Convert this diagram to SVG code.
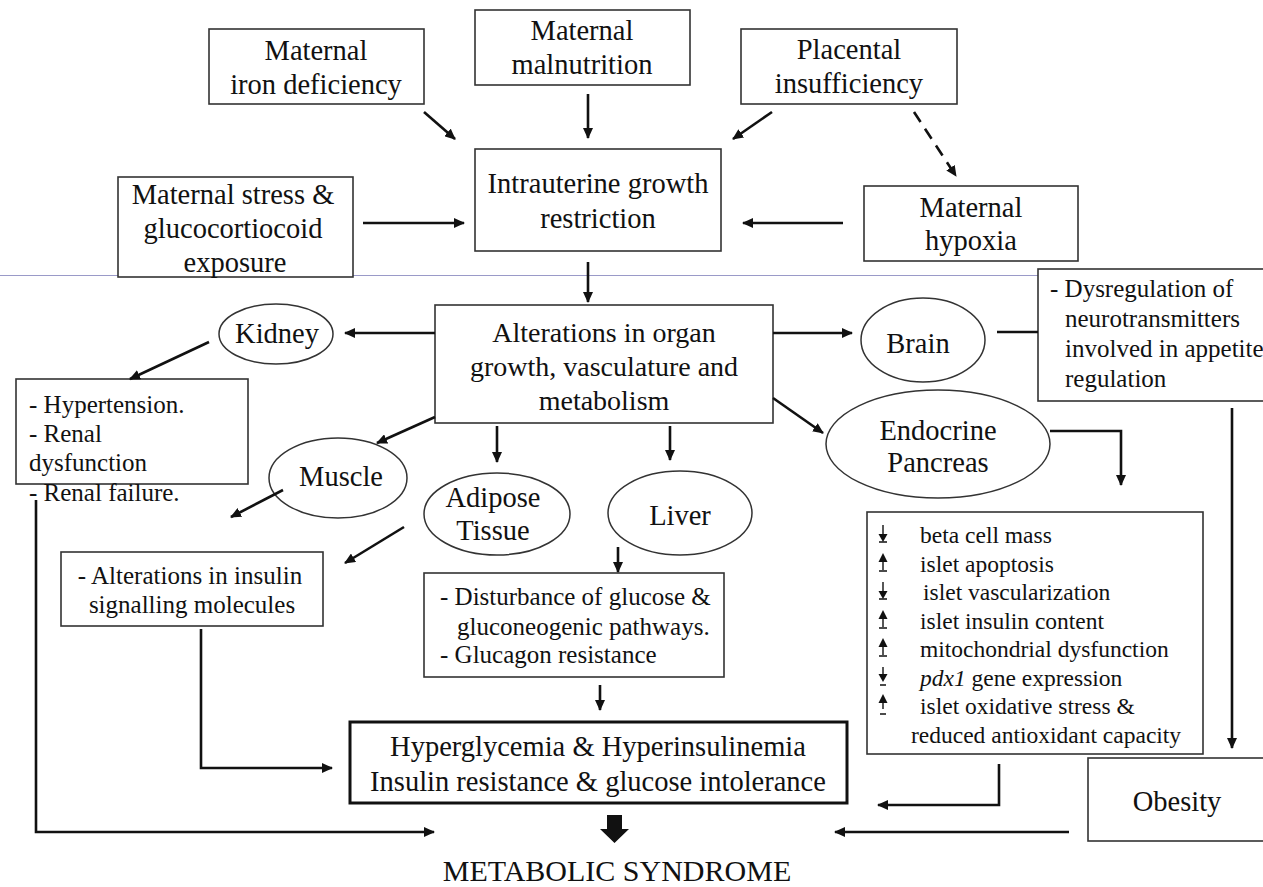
<svg xmlns="http://www.w3.org/2000/svg" width="1263" height="887" viewBox="0 0 1263 887">
<defs>
<style>
text{font-family:"Liberation Serif","Times New Roman",serif;fill:#111}
.box{fill:#fff;stroke:#333;stroke-width:1.6}
.ell{fill:#fff;stroke:#333;stroke-width:1.5}
.c{text-anchor:middle}
.cn{fill:none;stroke:#111;stroke-width:2.6}
.ar{marker-end:url(#ah)}
.sym{stroke:#111;stroke-width:1.4;fill:none}
</style>
<marker id="ah" markerUnits="userSpaceOnUse" markerWidth="11" markerHeight="10" refX="10" refY="5" orient="auto">
<path d="M0,0 L11,5 L0,10 z" fill="#111"/>
</marker>
</defs>
<rect width="1263" height="887" fill="#fff"/>
<line x1="0" y1="275.5" x2="1263" y2="275.5" stroke="#9a9ac8" stroke-width="1"/>

<g font-family="Liberation Serif, Times New Roman, serif" font-size="28.5">
<g id="iron"><rect class="box" x="209" y="29" width="215" height="75"/>
<text class="c" x="316" y="60">Maternal</text><text class="c" x="316" y="94">iron deficiency</text></g>
<g id="malnutrition"><rect class="box" x="475" y="10" width="215" height="75"/>
<text class="c" x="582" y="40">Maternal</text><text class="c" x="582" y="74">malnutrition</text></g>
<g id="placental"><rect class="box" x="741" y="29" width="216" height="75"/>
<text class="c" x="849" y="59">Placental</text><text class="c" x="849" y="93">insufficiency</text></g>
<g id="stress"><rect class="box" x="118" y="177" width="235" height="100"/>
<text class="c" x="233" y="204">Maternal stress &amp;</text><text class="c" x="233" y="238">glucocortiocoid</text><text class="c" x="235" y="272">exposure</text></g>
<g id="iugr"><rect class="box" x="475" y="149" width="246" height="102"/>
<text class="c" x="598" y="193">Intrauterine growth</text><text class="c" x="598" y="228">restriction</text></g>
<g id="hypoxia"><rect class="box" x="864" y="186" width="214" height="75"/>
<text class="c" x="971" y="217">Maternal</text><text class="c" x="971" y="250">hypoxia</text></g>

<g id="alterations"><rect class="box" x="435" y="305" width="338" height="118"/>
<text class="c" x="604" y="342" font-size="28">Alterations in organ</text><text class="c" x="604" y="376" font-size="28">growth, vasculature and</text><text class="c" x="604" y="410" font-size="28">metabolism</text></g>
<g id="kidney"><ellipse class="ell" cx="276" cy="334" rx="57" ry="30"/><text class="c" x="277" y="343">Kidney</text></g>
<g id="renal" font-size="25"><rect class="box" x="16" y="379" width="232" height="105"/>
<text x="29" y="413">- Hypertension.</text><text x="29" y="442">- Renal</text><text x="29" y="471">dysfunction</text><text x="29" y="501">- Renal failure.</text></g>
<g id="muscle"><ellipse class="ell" cx="338" cy="478" rx="69" ry="40"/><text class="c" x="341" y="486">Muscle</text></g>
<g id="adipose"><ellipse class="ell" cx="497" cy="514" rx="73" ry="41"/><text class="c" x="493" y="507">Adipose</text><text class="c" x="493" y="540">Tissue</text></g>
<g id="liver"><ellipse class="ell" cx="680" cy="513" rx="72" ry="42"/><text class="c" x="680" y="525">Liver</text></g>
<g id="insulin" font-size="25"><rect class="box" x="61" y="552" width="262" height="74"/>
<text class="c" x="190" y="584">- Alterations in insulin</text><text class="c" x="192" y="613">signalling molecules</text></g>
<g id="liverbox" font-size="25"><rect class="box" x="424" y="573" width="300" height="104"/>
<text x="440" y="605">- Disturbance of glucose &amp;</text><text x="457" y="635">gluconeogenic pathways.</text><text x="440" y="663">- Glucagon resistance</text></g>
<g id="hyper" font-size="28.5"><rect x="350" y="722" width="497" height="81" fill="#fff" stroke="#111" stroke-width="3"/>
<text class="c" x="598" y="756">Hyperglycemia &amp; Hyperinsulinemia</text><text class="c" x="598" y="791">Insulin resistance &amp; glucose intolerance</text></g>

<g id="brain"><ellipse class="ell" cx="923" cy="340" rx="62" ry="42"/><text class="c" x="918" y="353">Brain</text></g>
<g id="dysreg" font-size="25"><rect class="box" x="1038" y="269" width="240" height="132"/>
<text x="1050" y="297">- Dysregulation of</text><text x="1065" y="327">neurotransmitters</text><text x="1065" y="357">involved in appetite</text><text x="1065" y="387">regulation</text></g>
<g id="endocrine"><ellipse class="ell" cx="938" cy="444" rx="112" ry="54"/><text class="c" x="938" y="440">Endocrine</text><text class="c" x="938" y="472">Pancreas</text></g>
<g id="pancreasbox" font-size="23.5"><rect class="box" x="867" y="512" width="336" height="242"/>
<text x="920" y="543">beta cell mass</text>
<text x="920" y="572">islet apoptosis</text>
<text x="923" y="600">islet vascularization</text>
<text x="920" y="629">islet insulin content</text>
<text x="920" y="657">mitochondrial dysfunction</text>
<text x="920" y="686"><tspan font-style="italic">pdx1</tspan> gene expression</text>
<text x="920" y="714">islet oxidative stress &amp;</text>
<text x="911" y="743">reduced antioxidant capacity</text>
<g id="symbols">
<path class="sym" d="M883,525 V537 M879,542 H887"/><path d="M878.5,534 L887.5,534 L883,542 z" fill="#111"/>
<path class="sym" d="M883,560 V570 M879,571 H887"/><path d="M878.5,562 L887.5,562 L883,553 z" fill="#111"/>
<path class="sym" d="M883,582 V594 M879,599 H887"/><path d="M878.5,591 L887.5,591 L883,599 z" fill="#111"/>
<path class="sym" d="M883,617 V627 M879,628 H887"/><path d="M878.5,619 L887.5,619 L883,610 z" fill="#111"/>
<path class="sym" d="M883,645 V655 M879,656 H887"/><path d="M878.5,647 L887.5,647 L883,638 z" fill="#111"/>
<path class="sym" d="M883,667 V677 M880,685 H886"/><path d="M878.5,674 L887.5,674 L883,682 z" fill="#111"/>
<path class="sym" d="M883,702 V709 M880,714 H886"/><path d="M878.5,703 L887.5,703 L883,694 z" fill="#111"/>
</g></g>
<g id="obesity"><rect class="box" x="1088" y="758" width="190" height="83"/><text class="c" x="1177" y="811" font-size="28.5">Obesity</text></g>
<g id="metabolic"><text class="c" x="617" y="881" font-size="30">METABOLIC SYNDROME</text></g>
</g>

<g id="connectors">
<line class="cn ar" x1="424" y1="112" x2="455" y2="139"/>
<line class="cn ar" x1="588" y1="94" x2="588" y2="138"/>
<line class="cn ar" x1="772" y1="112" x2="733" y2="139"/>
<line class="cn ar" x1="914" y1="112" x2="956" y2="176" stroke-dasharray="12 8"/>
<line class="cn ar" x1="363" y1="223" x2="464" y2="223"/>
<line class="cn ar" x1="843" y1="223" x2="743" y2="223"/>
<line class="cn ar" x1="588" y1="262" x2="588" y2="302"/>
<line class="cn ar" x1="435" y1="333" x2="345" y2="333"/>
<line class="cn ar" x1="209" y1="342" x2="130" y2="379"/>
<line class="cn ar" x1="435" y1="417" x2="377" y2="443"/>
<line class="cn ar" x1="283" y1="490" x2="231" y2="517"/>
<line class="cn ar" x1="497" y1="426" x2="497" y2="462"/>
<line class="cn ar" x1="670" y1="426" x2="670" y2="460"/>
<line class="cn ar" x1="404" y1="527" x2="345" y2="563"/>
<line class="cn ar" x1="618" y1="547" x2="618" y2="572"/>
<line class="cn ar" x1="600" y1="685" x2="600" y2="710"/>
<polyline class="cn ar" points="201,629 201,768 332,768"/>
<polyline class="cn ar" points="36,500 36,832 434,832"/>
<line class="cn ar" x1="773" y1="333" x2="852" y2="333"/>
<line class="cn" x1="997" y1="332" x2="1038" y2="332"/>
<line class="cn ar" x1="773" y1="398" x2="823" y2="433"/>
<polyline class="cn ar" points="1050,431 1121,431 1121,485"/>
<line class="cn ar" x1="1232" y1="408" x2="1232" y2="748"/>
<polyline class="cn ar" points="999,764 999,805 878,805"/>
<line class="cn ar" x1="1069" y1="832" x2="835" y2="832"/>
<polygon points="607,815 622,815 622,829 629,829 614.5,843 600,829 607,829" fill="#111"/>
</g>
</svg>
